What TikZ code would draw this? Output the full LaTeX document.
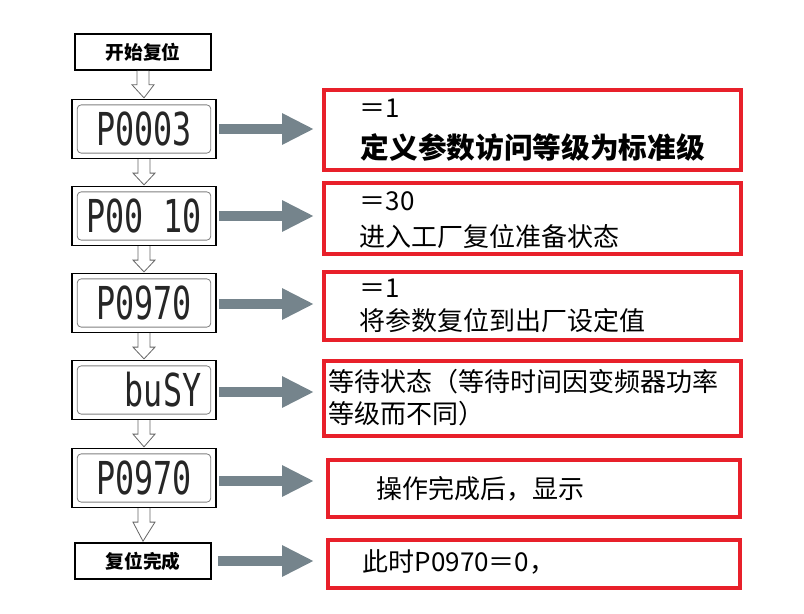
\documentclass[tikz,border=0pt]{standalone}
\usepackage{fontspec}
\newfontfamily\cjk{Noto Sans CJK SC}
\newfontfamily\seg{DejaVu Sans Mono}
\usetikzlibrary{arrows.meta,calc}
\definecolor{arrgray}{HTML}{75848C}
\definecolor{redb}{HTML}{E8202A}
\tikzset{
 x=0.75pt,y=-0.75pt,
 plain/.style={draw=black,line width=1.2pt,fill=white,font=\cjk\bfseries\fontsize{14}{16}\selectfont,minimum width=102pt,minimum height=27pt,inner sep=0pt},
 disp/.style={draw=black,line width=1.2pt,fill=white,minimum width=108pt,minimum height=44pt,inner sep=0pt},
 dtext/.style={font=\seg\fontsize{34}{34}\selectfont,text=black!85},
 redbox/.style={draw=redb,line width=3pt},
 rtext/.style={font=\cjk\fontsize{19.5}{24}\selectfont,anchor=west,align=left},
 grayarr/.style={arrgray,line width=7pt,-{Triangle[length=24pt,width=22pt]}}
}
\begin{document}
\begin{tikzpicture}
\useasboundingbox (0,0) rectangle (804,614);
\node[plain] (s) at (143,52) {开始复位};
\foreach \n/\y/\t in {d1/129/P0003,d2/216/P00 10,d3/303/P0970,d4/390/\ \ buSY,d5/478/P0970}{
 \node[disp] (\n) at (144,\y) {};
 \draw[black!50,rounded corners=3pt,line width=0.6pt] ($(\n.north west)+(6,6)$) rectangle ($(\n.south east)+(-6,-6)$);
 \node[dtext] at (\n) {\scalebox{0.7}[1]{\t}};
}
\node[plain] (e) at (143,561) {复位完成};
\foreach \a/\b in {s/d1,d1/d2,d2/d3,d3/d4,d4/d5,d5/e}{
 \draw[black!60,line width=0.6pt,fill=white] ($(\a.south)+(-6,0)$) -- ++(0,14) -- ++(-5,0) -- ($(\b.north)+(0,-1)$) -- ($(\a.south)+(11,14)$) -- ++(-5,0) -- ($(\a.south)+(6,0)$);
}
\draw[redbox] (324,90) rectangle (741,170);
\draw[redbox] (324,183) rectangle (741,254);
\draw[redbox] (324,272) rectangle (741,340);
\draw[redbox] (324,361) rectangle (741,436);
\draw[redbox] (328,460) rectangle (740,517);
\draw[redbox] (328,540) rectangle (740,588);
\foreach \n/\y in {d1/129,d2/216,d3/304,d4/392,d5/481}{
 \coordinate (t\n) at (314,\y);
 \draw[grayarr] (\n.east |- t\n) ++(2,0) -- (t\n);
}
\coordinate (te) at (314,561);
\draw[grayarr] (e.east |- te) ++(6,0) -- (te);
\node[rtext] at (355,108) {＝1};
\node[rtext,font=\cjk\bfseries\fontsize{21.5}{24}\selectfont] at (356,147) {定义参数访问等级为标准级};
\node[rtext] at (355,201) {＝30};
\node[rtext] at (355,237) {进入工厂复位准备状态};
\node[rtext] at (355,288) {＝1};
\node[rtext] at (355,321) {将参数复位到出厂设定值};
\node[rtext,inner sep=1pt] at (327,398) {等待状态（等待时间因变频器功率\\等级而不同）};
\node[rtext] at (372,489) {操作完成后，显示};
\node[rtext] at (358,562) {此时P0970＝0，};
\end{tikzpicture}
\end{document}
